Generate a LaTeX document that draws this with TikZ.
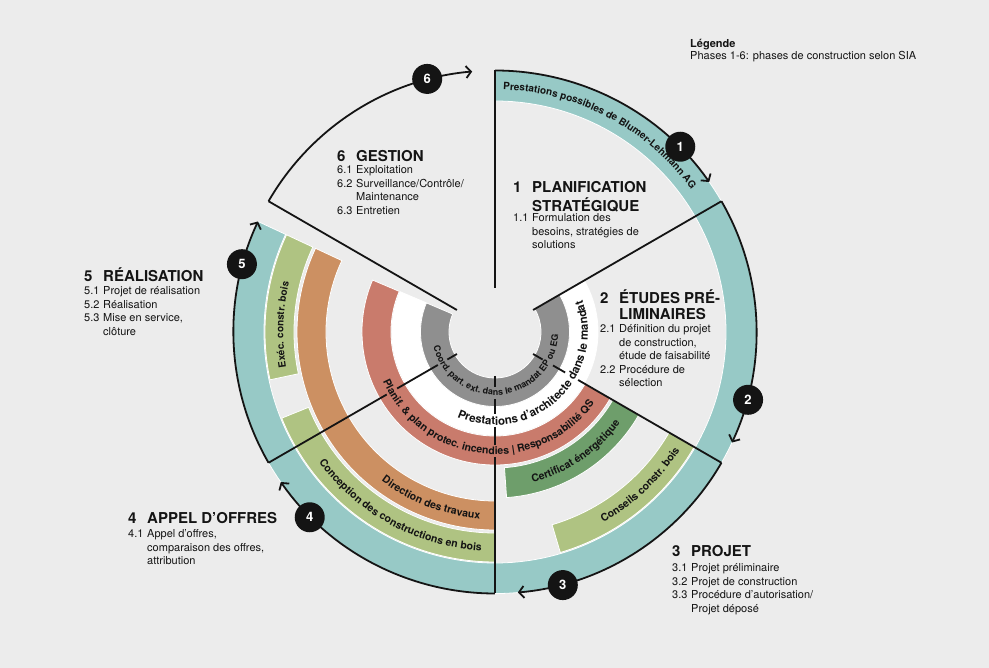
\documentclass[tikz,border=0pt]{standalone}
\usepackage{fontspec}
\setmainfont{TeX Gyre Heros}
\usepackage{tikz}
\usetikzlibrary{arrows.meta,decorations.text}

\definecolor{ink}{HTML}{141414}
\definecolor{paper}{HTML}{ECECEC}
\definecolor{cteal}{HTML}{97C9C6}
\definecolor{clgreen}{HTML}{AFC382}
\definecolor{corange}{HTML}{CC9062}
\definecolor{cred}{HTML}{C97B6C}
\definecolor{cdgreen}{HTML}{6E9E6B}
\definecolor{cgray}{HTML}{8F8F8F}

\newcommand{\ringfont}[1]{\bfseries\fontsize{#1}{#1}\selectfont}

\begin{document}
\begin{tikzpicture}[x=1pt, y=1pt,
	band/.style={draw=white, line width=0.8pt},
	sepline/.style={draw=ink, line width=1.8pt},
	phasearc/.style={draw=ink, line width=1.8pt, -{Straight Barb[length=5pt, width=12pt]}},
	badge/.style={circle, fill=ink, text=white, minimum size=30pt, inner sep=0pt, font=\bfseries\fontsize{13}{13}\selectfont},
	phasetitle/.style={anchor=base west, inner sep=0pt, text=ink, font=\bfseries\fontsize{15}{15}\selectfont},
	phaseitems/.style={anchor=base west, inner sep=0pt, text=ink, font=\fontsize{11}{13.5}\selectfont},
	ringtext/.style={decorate, decoration={text along path, text align=center, text color=ink, text={#1}}}]
	\useasboundingbox (-495,-336) rectangle (494,332);
	\fill[paper] (-495,-336) rectangle (494,332);
	\coordinate (c) at (0,0);
	% the bands of services
	\fill[cteal, band] (90:231) arc[start angle=90, end angle=-205, radius=231] -- (-205:261.5) arc[start angle=-205, end angle=90, radius=261.5] -- cycle;
	\fill[clgreen, band] (155:201) arc[start angle=155, end angle=192, radius=201] -- (192:230) arc[start angle=192, end angle=155, radius=230] -- cycle;
	\fill[clgreen, band] (202:201) arc[start angle=202, end angle=270, radius=201] -- (270:230) arc[start angle=270, end angle=202, radius=230] -- cycle;
	\fill[clgreen, band] (-73.5:201) arc[start angle=-73.5, end angle=-30, radius=201] -- (-30:230) arc[start angle=-30, end angle=-73.5, radius=230] -- cycle;
	\fill[corange, band] (155:169) arc[start angle=155, end angle=270, radius=169] -- (270:198) arc[start angle=270, end angle=155, radius=198] -- cycle;
	\fill[cdgreen, band] (-86:136) arc[start angle=-86, end angle=-30, radius=136] -- (-30:166) arc[start angle=-30, end angle=-86, radius=166] -- cycle;
	\fill[cred, band] (157:104) arc[start angle=157, end angle=330, radius=104] -- (330:133) arc[start angle=330, end angle=157, radius=133] -- cycle;
	\fill[white, band] (157:75) arc[start angle=157, end angle=390, radius=75] -- (390:103) arc[start angle=390, end angle=157, radius=103] -- cycle;
	\fill[cgray, band] (157:46) arc[start angle=157, end angle=390, radius=46] -- (390:74.5) arc[start angle=390, end angle=157, radius=74.5] -- cycle;
	% texts along the bands
	\path[ringtext={|\ringfont{10}|Prestations possibles de Blumer-Lehmann AG}] (110:242.4) arc[start angle=110, end angle=14, radius=242.4];
	\path[ringtext={|\ringfont{10}|Exéc. constr. bois}] (206:211.7) arc[start angle=206, end angle=150, radius=211.7];
	\path[ringtext={|\ringfont{10.5}|Conception des constructions en bois}] (201.5:219.3) arc[start angle=201.5, end angle=281.5, radius=219.3];
	\path[ringtext={|\ringfont{10.5}|Conseils constr. bois}] (273.5:219.3) arc[start angle=273.5, end angle=353.5, radius=219.3];
	\path[ringtext={|\ringfont{10.5}|Direction des travaux}] (209:187.3) arc[start angle=209, end angle=289, radius=187.3];
	\path[ringtext={|\ringfont{10.5}|Certificat énergétique}] (264:154.8) arc[start angle=264, end angle=344, radius=154.8];
	\path[ringtext={|\ringfont{10.5}|Planif. {\&} plan protec. incendies {\textbar} Responsabilité QS}] (184:122.3) arc[start angle=184, end angle=344, radius=122.3];
	\path[ringtext={|\ringfont{11.5}|Prestations d’architecte dans le mandat}] (233:93) arc[start angle=233, end angle=393, radius=93];
	\path[ringtext={|\ringfont{9}|Coord. part. ext. dans le mandat EP ou EG}] (175.5:63.2) arc[start angle=175.5, end angle=375.5, radius=63.2];
	% phase borders, broken where a text crosses
	\draw[sepline] (90:44) -- (90:261.5);
	\draw[sepline] (30:44) -- (30:261.5);
	\draw[sepline] (150:44) -- (150:261.5);
	\draw[sepline] (330:44) -- (330:55);
	\draw[sepline] (330:67) -- (330:81);
	\draw[sepline] (330:96) -- (330:261.5);
	\draw[sepline] (270:44) -- (270:55);
	\draw[sepline] (270:67) -- (270:82);
	\draw[sepline] (270:95) -- (270:113);
	\draw[sepline] (270:125) -- (270:261.5);
	\draw[sepline] (210:44) -- (210:55);
	\draw[sepline] (210:66) -- (210:113);
	\draw[sepline] (210:125) -- (210:261.5);
	% the cycle of phases
	\draw[phasearc] (90:261.5) arc[start angle=90, end angle=35, radius=261.5];
	\draw[phasearc] (30:261.5) arc[start angle=30, end angle=-25, radius=261.5];
	\draw[phasearc] (-30:261.5) arc[start angle=-30, end angle=-85, radius=261.5];
	\draw[phasearc] (-90:261.5) arc[start angle=-90, end angle=-145, radius=261.5];
	\draw[phasearc] (-150:261.5) arc[start angle=-150, end angle=-205, radius=261.5];
	\draw[phasearc] (150:261.5) arc[start angle=150, end angle=95, radius=261.5];
	\node[badge] (b1) at (45:262) {1};
	\node[badge] (b2) at (-15:262) {2};
	\node[badge] (b3) at (-75:262) {3};
	\node[badge] (b4) at (-135:262) {4};
	\node[badge] (b5) at (-195:262) {5};
	\node[badge] (b6) at (105:262) {6};
	% phase descriptions
	\node[phasetitle] (t1) at (18,139) {\begin{tabular}[t]{@{}p{19pt}@{}l@{}}1&PLANIFICATION\\&STRATÉGIQUE\end{tabular}};
	\node[phaseitems] (l1) at (18,110) {\begin{tabular}[t]{@{}p{19pt}@{}l@{}}1.1&Formulation des\\&besoins, stratégies de\\&solutions\end{tabular}};
	\node[phasetitle] (t2) at (105,28) {\begin{tabular}[t]{@{}p{19pt}@{}l@{}}2&ÉTUDES PRÉ-\\&LIMINAIRES\end{tabular}};
	\node[phaseitems] (l2) at (105,-1) {\begin{tabular}[t]{@{}p{19pt}@{}l@{}}2.1&Définition du projet\\&de construction,\\&étude de faisabilité\\2.2&Procédure de\\&sélection\end{tabular}};
	\node[phasetitle] (t3) at (177,-225) {\begin{tabular}[t]{@{}p{19pt}@{}l@{}}3&PROJET\end{tabular}};
	\node[phaseitems] (l3) at (177,-240) {\begin{tabular}[t]{@{}p{19pt}@{}l@{}}3.1&Projet préliminaire\\3.2&Projet de construction\\3.3&Procédure d’autorisation/\\&Projet déposé\end{tabular}};
	\node[phasetitle] (t4) at (-367,-192) {\begin{tabular}[t]{@{}p{19pt}@{}l@{}}4&APPEL D’OFFRES\end{tabular}};
	\node[phaseitems] (l4) at (-367,-206) {\begin{tabular}[t]{@{}p{19pt}@{}l@{}}4.1&Appel d’offres,\\&comparaison des offres,\\&attribution\end{tabular}};
	\node[phasetitle] (t5) at (-411,50) {\begin{tabular}[t]{@{}p{19pt}@{}l@{}}5&RÉALISATION\end{tabular}};
	\node[phaseitems] (l5) at (-411,37) {\begin{tabular}[t]{@{}p{19pt}@{}l@{}}5.1&Projet de réalisation\\5.2&Réalisation\\5.3&Mise en service,\\&clôture\end{tabular}};
	\node[phasetitle] (t6) at (-158,170) {\begin{tabular}[t]{@{}p{19pt}@{}l@{}}6&GESTION\end{tabular}};
	\node[phaseitems] (l6) at (-158,158) {\begin{tabular}[t]{@{}p{19pt}@{}l@{}}6.1&Exploitation\\6.2&Surveillance/Contrôle/\\&Maintenance\\6.3&Entretien\end{tabular}};
	% legend
	\node[phaseitems, font=\fontsize{11}{12}\selectfont] (legend) at (195,284) {\begin{tabular}[t]{@{}l@{}}\textbf{Légende}\\Phases 1-6: phases de construction selon SIA\end{tabular}};
\end{tikzpicture}
\end{document}
